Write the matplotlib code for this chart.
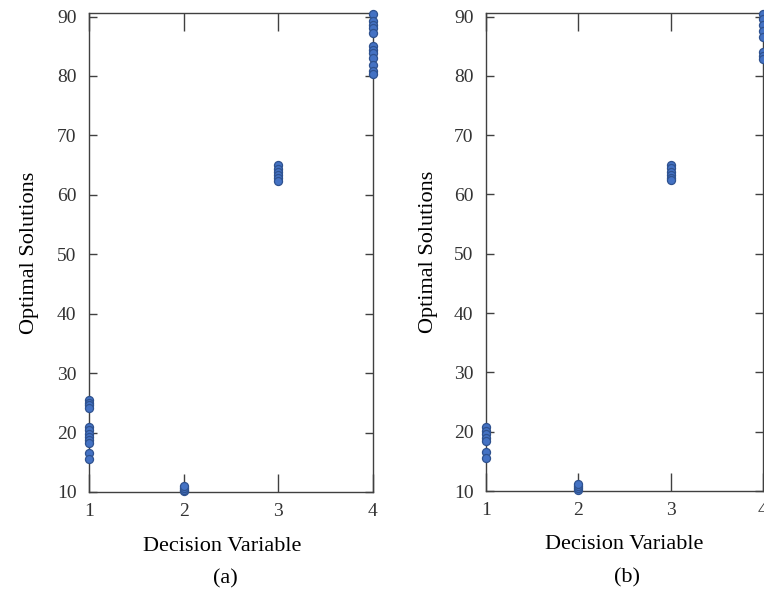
import matplotlib
matplotlib.use("Agg")
import matplotlib.pyplot as plt

# panel (a)
a_x1 = [25.4, 25.0, 24.6, 24.2, 21.0, 20.4, 19.8, 19.3, 18.8, 18.2, 16.6, 15.6]
a_x2 = [10.1, 10.4, 10.7, 11.0]
a_x3 = [65.0, 64.4, 63.8, 63.3, 62.8, 62.4]
a_x4 = [90.4, 89.2, 88.6, 88.0, 87.2, 85.0, 84.4, 83.8, 83.0, 81.8, 80.8, 80.3]

# panel (b)
b_x1 = [20.8, 20.2, 19.6, 19.0, 18.4, 16.6, 15.6]
b_x2 = [10.2, 10.5, 10.8, 11.1]
b_x3 = [65.0, 64.4, 63.8, 63.3, 62.8, 62.4]
b_x4 = [90.4, 89.6, 88.6, 87.6, 86.6, 84.0, 83.4, 82.8]

variables = [1, 2, 3, 4]
y_ticks = [10, 20, 30, 40, 50, 60, 70, 80, 90]

FILL = "#4472c4"
EDGE = "#2f528f"
SPINE = "#404040"

plt.rcParams["font.family"] = ["Liberation Serif", "DejaVu Serif"]

fig = plt.figure(figsize=(7.64, 5.92), dpi=100)
ax_a = fig.add_axes([89 / 764, 1 - 492 / 592, 284 / 764, 479 / 592])
ax_b = fig.add_axes([486 / 764, 1 - 491 / 592, 277 / 764, 478 / 592])

panels = [
    (ax_a, [a_x1, a_x2, a_x3, a_x4], "(a)", 0.47),
    (ax_b, [b_x1, b_x2, b_x3, b_x4], "(b)", 0.5),
]

for ax, groups, tag, label_x in panels:
    for var, values in zip(variables, groups):
        ax.plot(
            [var] * len(values),
            values,
            linestyle="none",
            marker="o",
            markersize=5.8,
            markerfacecolor=FILL,
            markeredgecolor=EDGE,
            markeredgewidth=0.9,
            clip_on=False,
            zorder=3,
        )

    ax.set_xlim(1, 4)
    ax.set_ylim(10, 90.6)
    ax.set_xticks(variables)
    ax.set_yticks(y_ticks)
    for spine in ax.spines.values():
        spine.set_color(SPINE)
        spine.set_linewidth(1.0)

    ax.tick_params(axis="x", direction="in", length=13, width=1.0, color=SPINE,
                   top=True, pad=8, labelsize=14, labelcolor="#333333")
    ax.tick_params(axis="y", direction="in", length=6, width=1.0, color=SPINE,
                   right=True, pad=9, labelsize=14, labelcolor="#333333")

    ax.set_xlabel("Decision Variable", fontsize=16)
    ax.xaxis.set_label_coords(label_x, -0.093)
    ax.set_ylabel("Optimal Solutions", fontsize=16)
    ax.yaxis.set_label_coords(-0.175, 0.5)
    ax.text(label_x + 0.01, -0.181, tag, transform=ax.transAxes, ha="center",
            va="center", fontsize=16)

fig.savefig("out.png", dpi=100)
